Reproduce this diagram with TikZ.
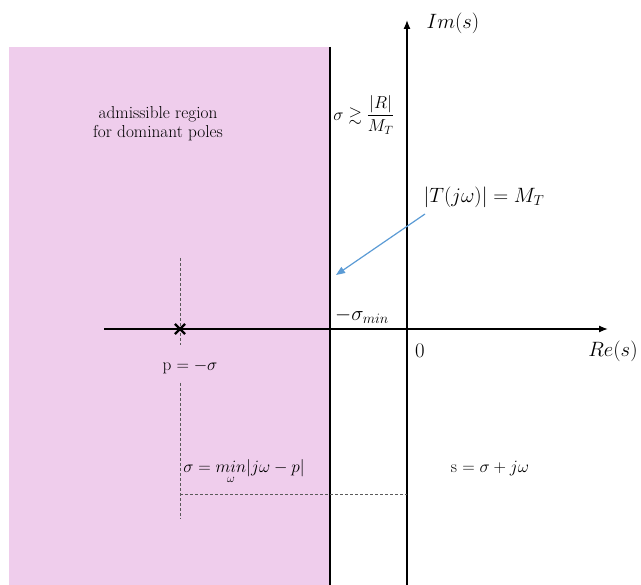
\documentclass[tikz,border=0pt]{standalone}
\usepackage{amsmath,amssymb}
\usetikzlibrary{arrows.meta, shapes.misc}
\definecolor{regpink}{RGB}{239,205,236}
\definecolor{arrblue}{RGB}{91,155,213}
\definecolor{dgray} {RGB}{90,90,90}

\begin{document}
\begin{tikzpicture}[x=1pt, y=-1pt,
    axis/.style={line width=1.3pt, -{Latex[length=9pt,width=7pt]}},
    bound/.style={line width=1.5pt},
    guide/.style={dgray, line width=0.8pt, densely dashed},
    lbl/.style={font=\fontsize{17.28}{21}\selectfont, inner sep=1pt},
    biglbl/.style={font=\fontsize{20.74}{24}\selectfont, inner sep=1pt}]
  \useasboundingbox (0,0) rectangle (641,585);
  % admissible half plane
  \fill[regpink] (9,47) rectangle (330,585);
  \coordinate (bt) at (330,47);
  \coordinate (bb) at (330,585);
  \draw[bound] (bt) -- (bb);
  % axes
  \coordinate (imlo) at (407,585);
  \coordinate (imhi) at (407,20);
  \coordinate (relo) at (104,329);
  \coordinate (rehi) at (608,329);
  \draw[axis] (imlo) -- (imhi);
  \draw[axis] (relo) -- (rehi);
  % pole and guides
  \coordinate (gtop) at (180,258);
  \coordinate (gmid) at (180,345);
  \coordinate (glow) at (180,383);
  \coordinate (gbot) at (180,519);
  \coordinate (hbeg) at (180,494);
  \coordinate (hend) at (407,494);
  \draw[guide] (gtop) -- (gmid);
  \draw[guide] (glow) -- (gbot);
  \draw[guide, line width=0.6pt] (hbeg) -- (hend);
  \node[cross out, draw, line width=2.2pt, minimum size=8pt, inner sep=0pt] (pole) at (180,329) {};
  % labels
  \node[font=\fontsize{17.28}{19}\selectfont, align=center] (region) at (158,124)
    {admissible region\\for dominant poles};
  \node[biglbl] (imlab) at (453,23) {$Im(s)$};
  \node[biglbl] (relab) at (613,351) {$Re(s)$};
  \node[biglbl] (zero) at (420,351) {$0$};
  \node[biglbl] (sigmin) at (362,316) {$-\sigma_{min}$};
  \node[lbl] (bound) at (364,115) {$\sigma \gtrsim \dfrac{|R|}{M_T}$};
  \node[biglbl] (tmag) at (484,197) {$|T(j\omega)| = M_T$};
  \node[lbl] (plab) at (190,367) {p $= -\sigma$};
  \node[lbl] (dist) at (244,472) {$\sigma = \underset{\omega}{min}|j\omega - p|$};
  \node[lbl] (slab) at (490,469) {s $= \sigma + j\omega$};
  % pointer to the boundary
  \coordinate (pbeg) at (425,214);
  \coordinate (ptip) at (336,275);
  \draw[arrblue, line width=1.2pt, -{Triangle[length=9pt,width=7pt]}]
    (pbeg) -- (ptip);
\end{tikzpicture}
\end{document}
